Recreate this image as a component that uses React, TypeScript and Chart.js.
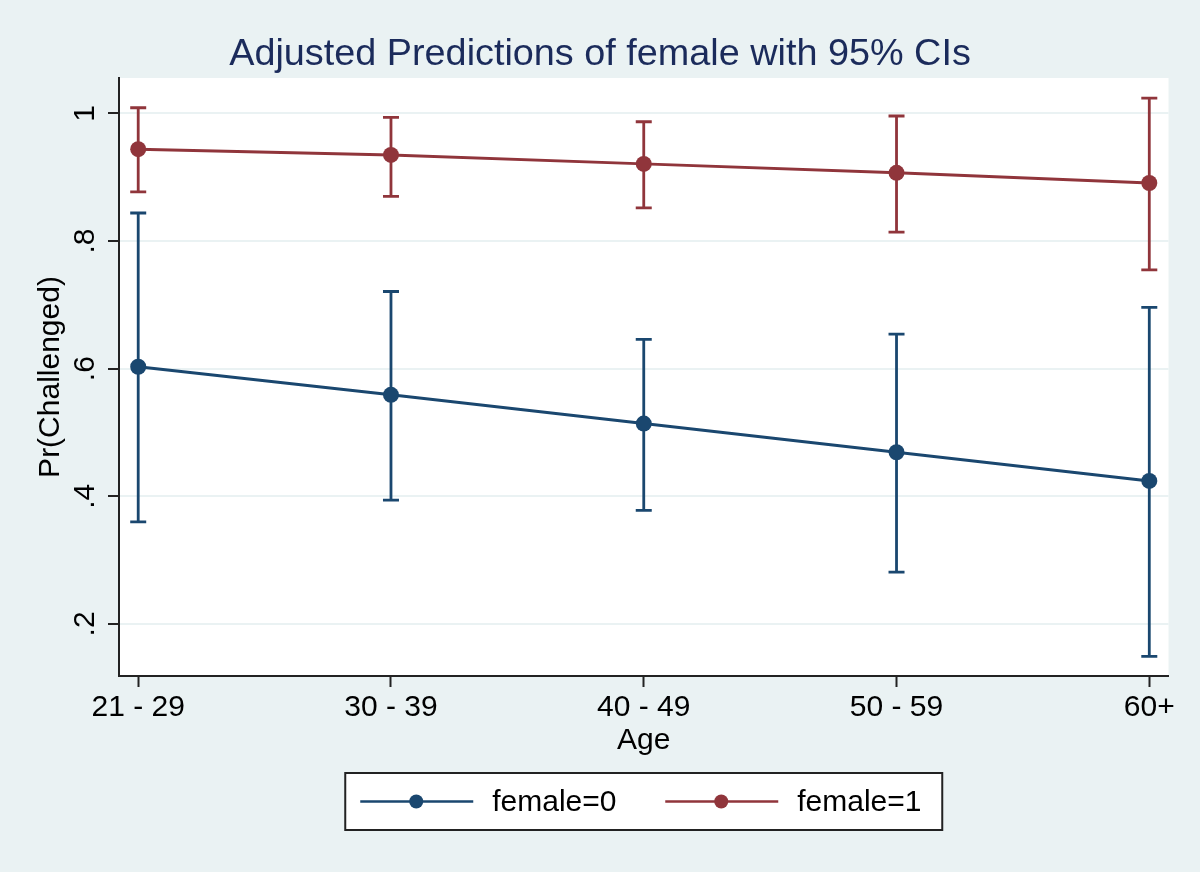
import { useEffect, useRef } from "react";
import { Chart, registerables } from "chart.js";

Chart.register(...registerables);
Chart.defaults.font.family = '"Liberation Sans", Arial, Helvetica, sans-serif';

const chartTitle = "Adjusted Predictions of female with 95% CIs";
const ageGroups = ["21 - 29", "30 - 39", "40 - 49", "50 - 59", "60+"];

// margins and 95% CIs
const female0Margin = [0.603, 0.559, 0.514, 0.469, 0.424];
const female0Lower = [0.36, 0.394, 0.378, 0.281, 0.149];
const female0Upper = [0.844, 0.721, 0.646, 0.654, 0.696];

const female1Margin = [0.944, 0.935, 0.921, 0.907, 0.891];
const female1Lower = [0.877, 0.87, 0.852, 0.814, 0.755];
const female1Upper = [1.009, 0.994, 0.987, 0.996, 1.024];

const yTickValues = [0.2, 0.4, 0.6, 0.8, 1];
const yTickLabels = [".2", ".4", ".6", ".8", "1"];

const NAVY = "#1a476f";
const MAROON = "#90353b";
const AXIS = "#222222";
const REGION = "#eaf2f3";

const backgroundPlugin = {
  id: "stataBackground",
  beforeDraw(chart: any) {
    const { ctx, chartArea, width, height } = chart;
    ctx.save();
    ctx.fillStyle = REGION;
    ctx.fillRect(0, 0, width, height);
    ctx.fillStyle = "#ffffff";
    ctx.fillRect(chartArea.left, chartArea.top, chartArea.right - chartArea.left, chartArea.bottom - chartArea.top);
    // title is centred on the whole graph, not on the plot region
    ctx.fillStyle = "#1b2b5b";
    ctx.font = '37.8px "Liberation Sans", Arial, sans-serif';
    ctx.textAlign = "center";
    ctx.textBaseline = "alphabetic";
    ctx.fillText(chartTitle, width / 2, 65);
    ctx.restore();
  },
};

const errorBarPlugin = {
  id: "errorBars",
  beforeDatasetsDraw(chart: any) {
    const { ctx } = chart;
    const x = chart.scales.x;
    const y = chart.scales.y;
    chart.data.datasets.forEach((ds: any) => {
      ctx.save();
      ctx.strokeStyle = ds.borderColor;
      ctx.lineWidth = 2.8;
      ds.lower.forEach((lo: number, i: number) => {
        const px = x.getPixelForValue(i);
        const top = y.getPixelForValue(ds.upper[i]);
        const bot = y.getPixelForValue(lo);
        ctx.beginPath();
        ctx.moveTo(px, top);
        ctx.lineTo(px, bot);
        ctx.moveTo(px - 8, top);
        ctx.lineTo(px + 8, top);
        ctx.moveTo(px - 8, bot);
        ctx.lineTo(px + 8, bot);
        ctx.stroke();
      });
      ctx.restore();
    });
  },
};

const legendPlugin = {
  id: "boxLegend",
  afterDraw(chart: any) {
    const { ctx, chartArea } = chart;
    const boxW = 597;
    const boxH = 57;
    const left = (chartArea.left + chartArea.right) / 2 - boxW / 2;
    const top = chartArea.bottom + 97;
    const midY = top + boxH / 2;
    ctx.save();
    ctx.fillStyle = "#ffffff";
    ctx.fillRect(left, top, boxW, boxH);
    ctx.strokeStyle = AXIS;
    ctx.lineWidth = 2;
    ctx.strokeRect(left, top, boxW, boxH);
    chart.data.datasets.forEach((ds: any, i: number) => {
      const x0 = left + 15 + i * 305;
      ctx.strokeStyle = ds.borderColor;
      ctx.lineWidth = 2.5;
      ctx.beginPath();
      ctx.moveTo(x0, midY);
      ctx.lineTo(x0 + 113, midY);
      ctx.stroke();
      ctx.fillStyle = ds.borderColor;
      ctx.beginPath();
      ctx.arc(x0 + 56, midY, 7, 0, Math.PI * 2);
      ctx.fill();
      ctx.fillStyle = "#000000";
      ctx.font = '30px "Liberation Sans", Arial, sans-serif';
      ctx.textBaseline = "middle";
      ctx.textAlign = "left";
      ctx.fillText(ds.label, x0 + 132, midY + 1);
    });
    ctx.restore();
  },
};

export default function App() {
  const canvasRef = useRef<HTMLCanvasElement>(null);
  const chartRef = useRef<Chart | null>(null);

  useEffect(() => {
    document.body.style.margin = "0";
    if (!canvasRef.current) return;
    if (chartRef.current) chartRef.current.destroy();

    chartRef.current = new Chart(canvasRef.current, {
      type: "scatter",
      data: {
        datasets: [
          {
            label: "female=0",
            data: female0Margin.map((v, i) => ({ x: i, y: v })),
            lower: female0Lower,
            upper: female0Upper,
            showLine: true,
            borderColor: NAVY,
            backgroundColor: NAVY,
            borderWidth: 3,
            pointRadius: 8,
            pointHoverRadius: 8,
            pointBorderWidth: 0,
          } as any,
          {
            label: "female=1",
            data: female1Margin.map((v, i) => ({ x: i, y: v })),
            lower: female1Lower,
            upper: female1Upper,
            showLine: true,
            borderColor: MAROON,
            backgroundColor: MAROON,
            borderWidth: 3,
            pointRadius: 8,
            pointHoverRadius: 8,
            pointBorderWidth: 0,
          } as any,
        ],
      },
      options: {
        responsive: false,
        animation: false,
        events: [],
        layout: { padding: { left: 0, top: 78, right: 31.5, bottom: 100 } },
        plugins: {
          legend: { display: false },
          tooltip: { enabled: false },
          title: { display: false },
        },
        scales: {
          x: {
            type: "linear",
            min: -0.076,
            max: 4.076,
            bounds: "data",
            afterBuildTicks: (scale: any) => {
              scale.ticks = ageGroups.map((_, i) => ({ value: i }));
            },
            afterFit: (scale: any) => {
              scale.height = 96;
            },
            ticks: {
              callback: (_v: any, i: number) => ageGroups[i],
              autoSkip: false,
              maxRotation: 0,
              color: "#000000",
              font: { size: 30 },
              padding: 3,
            },
            grid: {
              drawOnChartArea: false,
              tickLength: 11,
              tickColor: AXIS,
              tickWidth: 2,
            },
            border: { color: AXIS, width: 2 },
            title: {
              display: true,
              text: "Age",
              color: "#000000",
              font: { size: 30 },
              padding: { top: 0, bottom: 13 },
            },
          },
          y: {
            type: "linear",
            min: 0.1183,
            max: 1.0556,
            bounds: "data",
            afterBuildTicks: (scale: any) => {
              scale.ticks = yTickValues.map((v) => ({ value: v }));
            },
            afterFit: (scale: any) => {
              scale.width = 119;
            },
            ticks: {
              callback: (_v: any, i: number) => yTickLabels[i],
              minRotation: 90,
              maxRotation: 90,
              crossAlign: "center",
              color: "#000000",
              font: { size: 30 },
              padding: 10,
            },
            grid: {
              color: REGION,
              lineWidth: 2,
              tickLength: 11,
              tickColor: AXIS,
              tickWidth: 2,
            },
            border: { color: AXIS, width: 2 },
            title: {
              display: true,
              text: "Pr(Challenged)",
              color: "#000000",
              font: { size: 30 },
              padding: { top: 33, bottom: 0 },
            },
          },
        },
      } as any,
      plugins: [backgroundPlugin, errorBarPlugin, legendPlugin],
    });

    return () => {
      if (chartRef.current) {
        chartRef.current.destroy();
        chartRef.current = null;
      }
    };
  }, []);

  return <canvas ref={canvasRef} width={1200} height={872} style={{ display: "block" }} />;
}
